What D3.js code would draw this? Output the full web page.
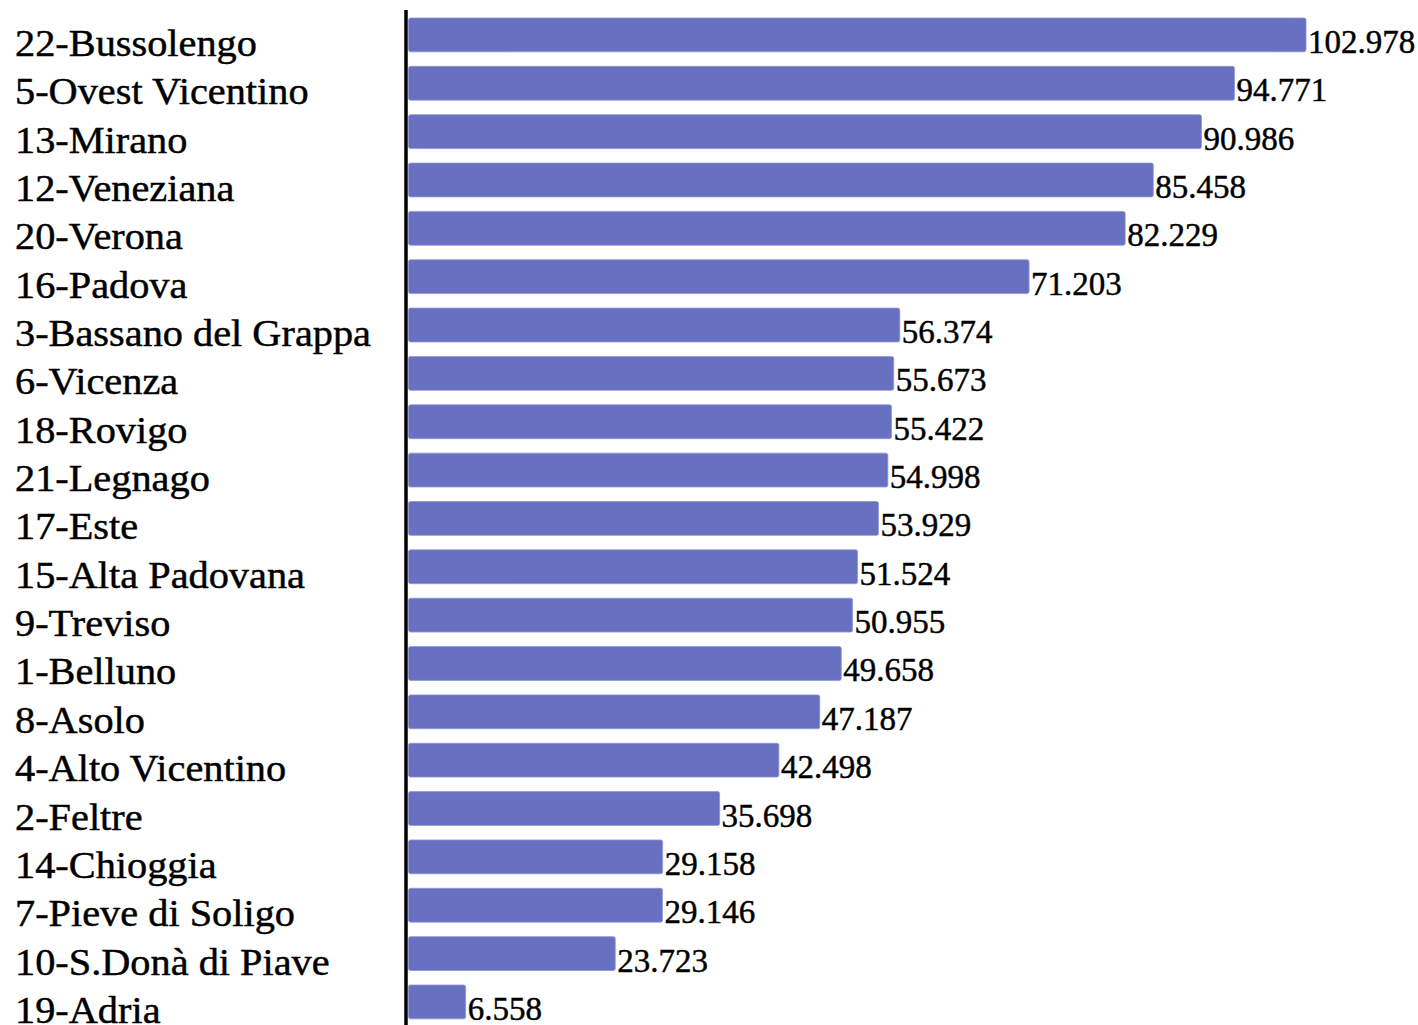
<!DOCTYPE html>
<html>
<head>
<meta charset="utf-8">
<script src="https://cdn.jsdelivr.net/npm/d3@7"></script>
<style>
  html, body { margin: 0; padding: 0; background: #fff; }
  svg { display: block; }
  text { font-family: "Liberation Serif", "Times New Roman", serif; fill: #000; stroke: #000; stroke-width: 0.45px; }
</style>
</head>
<body>
<svg id="chart" width="1418" height="1025"></svg>
<script>
// Districts, sorted by value (descending)
const categories = [
  "22-Bussolengo", "5-Ovest Vicentino", "13-Mirano", "12-Veneziana", "20-Verona",
  "16-Padova", "3-Bassano del Grappa", "6-Vicenza", "18-Rovigo", "21-Legnago",
  "17-Este", "15-Alta Padovana", "9-Treviso", "1-Belluno", "8-Asolo",
  "4-Alto Vicentino", "2-Feltre", "14-Chioggia", "7-Pieve di Soligo",
  "10-S.Donà di Piave", "19-Adria"
];
const values = [
  102.978, 94.771, 90.986, 85.458, 82.229,
  71.203, 56.374, 55.673, 55.422, 54.998,
  53.929, 51.524, 50.955, 49.658, 47.187,
  42.498, 35.698, 29.158, 29.146,
  23.723, 6.558
];
const valueLabels = values.map(v => v.toFixed(3));

const data = categories.map((c, i) => ({ name: c, value: values[i], label: valueLabels[i] }));

const svg = d3.select("#chart");

const x = d3.scaleLinear()
  .domain([0, d3.max(values)])
  .range([408.5, 1306]);

const y = d3.scaleBand()
  .domain(categories)
  .range([10.75, 1026.1])
  .paddingInner(0.3)
  .paddingOuter(0.15);

// bars
svg.append("g")
  .selectAll("rect")
  .data(data)
  .join("rect")
  .attr("x", x(0))
  .attr("y", d => y(d.name))
  .attr("width", d => x(d.value) - x(0))
  .attr("height", y.bandwidth())
  .attr("rx", 2)
  .attr("fill", "#6870c2")
  .attr("stroke", "#8f95d3")
  .attr("stroke-width", 0.8);

// value labels at bar ends
svg.append("g")
  .selectAll("text")
  .data(data)
  .join("text")
  .attr("x", d => x(d.value) + 2)
  .attr("y", d => y(d.name) + y.bandwidth() / 2 + 18)
  .attr("font-size", 33)
  .text(d => d.label);

// category labels on the left (slightly widened serif)
const sx = 1.09;
svg.append("g")
  .selectAll("text")
  .data(data)
  .join("text")
  .attr("transform", d => `translate(15,${y(d.name) + y.bandwidth() / 2 + 21}) scale(${sx},1)`)
  .attr("font-size", 37)
  .text(d => d.name);

// vertical axis line
const yAxis = d3.axisLeft(y).tickSize(0).tickFormat("");
const axisG = svg.append("g")
  .attr("transform", "translate(406,0)")
  .call(yAxis);
axisG.select(".domain")
  .attr("d", "M0,10V1025")
  .attr("stroke", "#000")
  .attr("stroke-width", 3.5);
</script>
</body>
</html>
